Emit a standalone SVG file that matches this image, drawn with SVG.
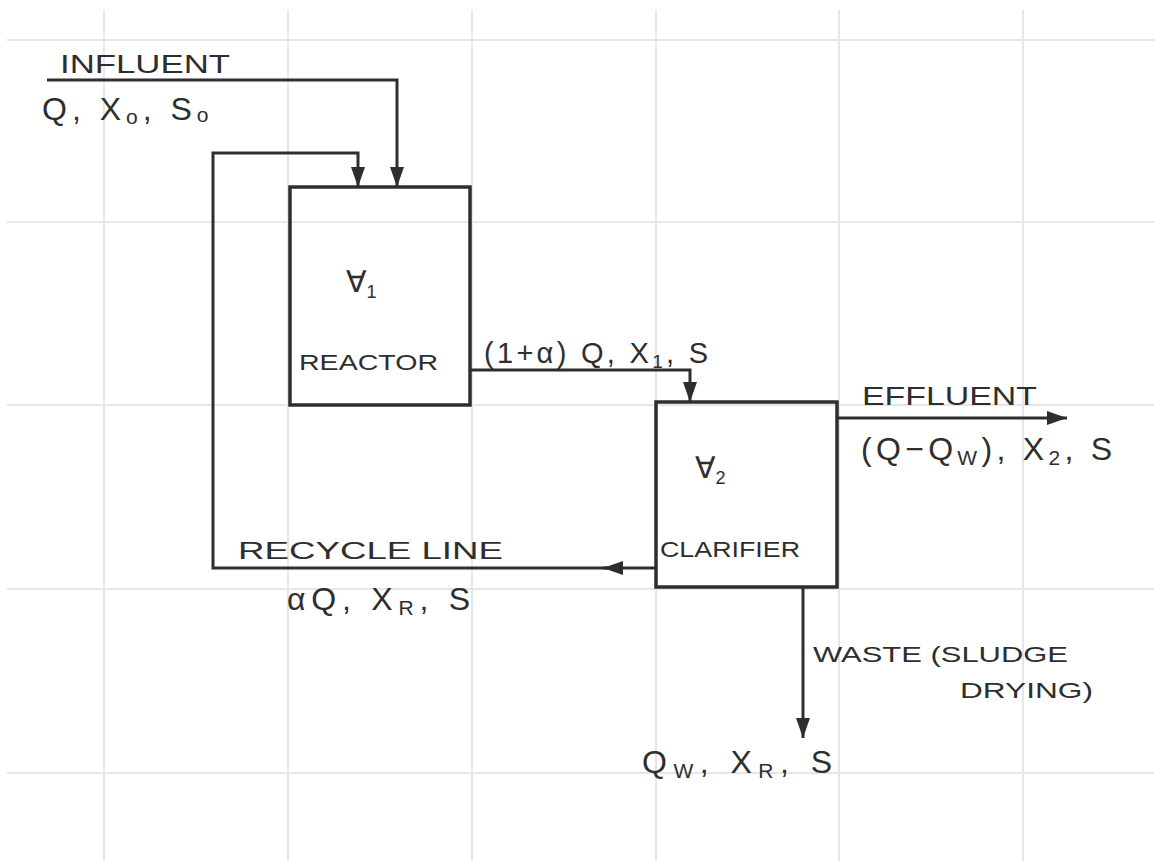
<svg xmlns="http://www.w3.org/2000/svg" width="1154" height="861" viewBox="0 0 1154 861">
  <style>
    .grid { stroke: #e6e6e6; stroke-width: 2; fill: none; }
    .box { fill: none; stroke: #2e2e2e; stroke-width: 3.5; }
    .flow { fill: none; stroke: #2e2e2e; stroke-width: 3; }
    .lbl { font-family: "Liberation Sans", "DejaVu Sans", sans-serif; fill: #2e2e2e; }
  </style>
  <defs>
    <marker id="arr" viewBox="0 0 20 14" refX="20" refY="7" markerWidth="20" markerHeight="14" markerUnits="userSpaceOnUse" orient="auto">
      <path d="M0,0 L20,7 L0,14 Z" fill="#2e2e2e"/>
    </marker>
  </defs>
  <rect x="0" y="0" width="1154" height="861" fill="#ffffff"/>
  <g id="grid">
    <path class="grid" d="M104,10 V861 M288,10 V861 M472,10 V861 M656,10 V861 M839,10 V861 M1023,10 V861"/>
    <path class="grid" d="M7,40 H1154 M7,222 H1154 M7,405 H1154 M7,589 H1154 M7,773 H1154"/>
  </g>
  <g id="connectors">
    <path id="influent-line" class="flow" d="M47,80 H397 V187" marker-end="url(#arr)"/>
    <path id="recycle-in" class="flow" d="M655,568 H603" marker-end="url(#arr)"/>
    <path id="recycle-line" class="flow" d="M610,568 H213 V153 H358 V187" marker-end="url(#arr)"/>
    <path id="reactor-to-clarifier" class="flow" d="M470,370 H690 V402" marker-end="url(#arr)"/>
    <path id="effluent-line" class="flow" d="M837,418 H1067" marker-end="url(#arr)"/>
    <path id="waste-line" class="flow" d="M803,587 V738" marker-end="url(#arr)"/>
  </g>
  <g id="reactor">
    <rect class="box" x="290" y="187" width="180" height="218"/>
    <text class="lbl" x="346" y="292" font-size="30">∀<tspan font-size="18" dy="6">1</tspan></text>
    <text class="lbl" x="299" y="370" font-size="22" textLength="139" lengthAdjust="spacingAndGlyphs">REACTOR</text>
  </g>
  <g id="clarifier">
    <rect class="box" x="656" y="402" width="181" height="185"/>
    <text class="lbl" x="695" y="478" font-size="30">∀<tspan font-size="18" dy="6">2</tspan></text>
    <text class="lbl" x="660" y="557" font-size="22" textLength="140" lengthAdjust="spacingAndGlyphs">CLARIFIER</text>
  </g>
  <g id="influent-label">
    <text class="lbl" x="60" y="73" font-size="26" textLength="170" lengthAdjust="spacingAndGlyphs">INFLUENT</text>
    <text class="lbl" x="42" y="120" font-size="32" letter-spacing="5">Q, X<tspan font-size="21" dy="4">o</tspan><tspan dy="-4">, S</tspan><tspan font-size="21" dy="2">o</tspan></text>
  </g>
  <g id="reactor-out-label">
    <text class="lbl" x="484" y="363" font-size="29" letter-spacing="3.3">(1+α) Q, X<tspan font-size="19" dy="5">1</tspan><tspan dy="-5">, S</tspan></text>
  </g>
  <g id="effluent-label">
    <text class="lbl" x="862" y="405" font-size="26" textLength="175" lengthAdjust="spacingAndGlyphs">EFFLUENT</text>
    <text class="lbl" x="861" y="460" font-size="32" letter-spacing="4.3">(Q−Q<tspan font-size="21" dy="5">W</tspan><tspan dy="-5">), X</tspan><tspan font-size="21" dy="5">2</tspan><tspan dy="-5">, S</tspan></text>
  </g>
  <g id="recycle-label">
    <text class="lbl" x="238" y="559" font-size="24" textLength="265" lengthAdjust="spacingAndGlyphs">RECYCLE LINE</text>
    <text class="lbl" x="287" y="610" font-size="32" letter-spacing="5.8">αQ, X<tspan font-size="21" dy="5">R</tspan><tspan dy="-5">, S</tspan></text>
  </g>
  <g id="waste-label">
    <text class="lbl" x="813" y="662" font-size="22" textLength="255" lengthAdjust="spacingAndGlyphs">WASTE (SLUDGE</text>
    <text class="lbl" x="960" y="698" font-size="22" textLength="133" lengthAdjust="spacingAndGlyphs">DRYING)</text>
    <text class="lbl" x="642" y="773" font-size="32" letter-spacing="6.5">Q<tspan font-size="21" dy="5">W</tspan><tspan dy="-5">, X</tspan><tspan font-size="21" dy="5">R</tspan><tspan dy="-5">, S</tspan></text>
  </g>
</svg>
